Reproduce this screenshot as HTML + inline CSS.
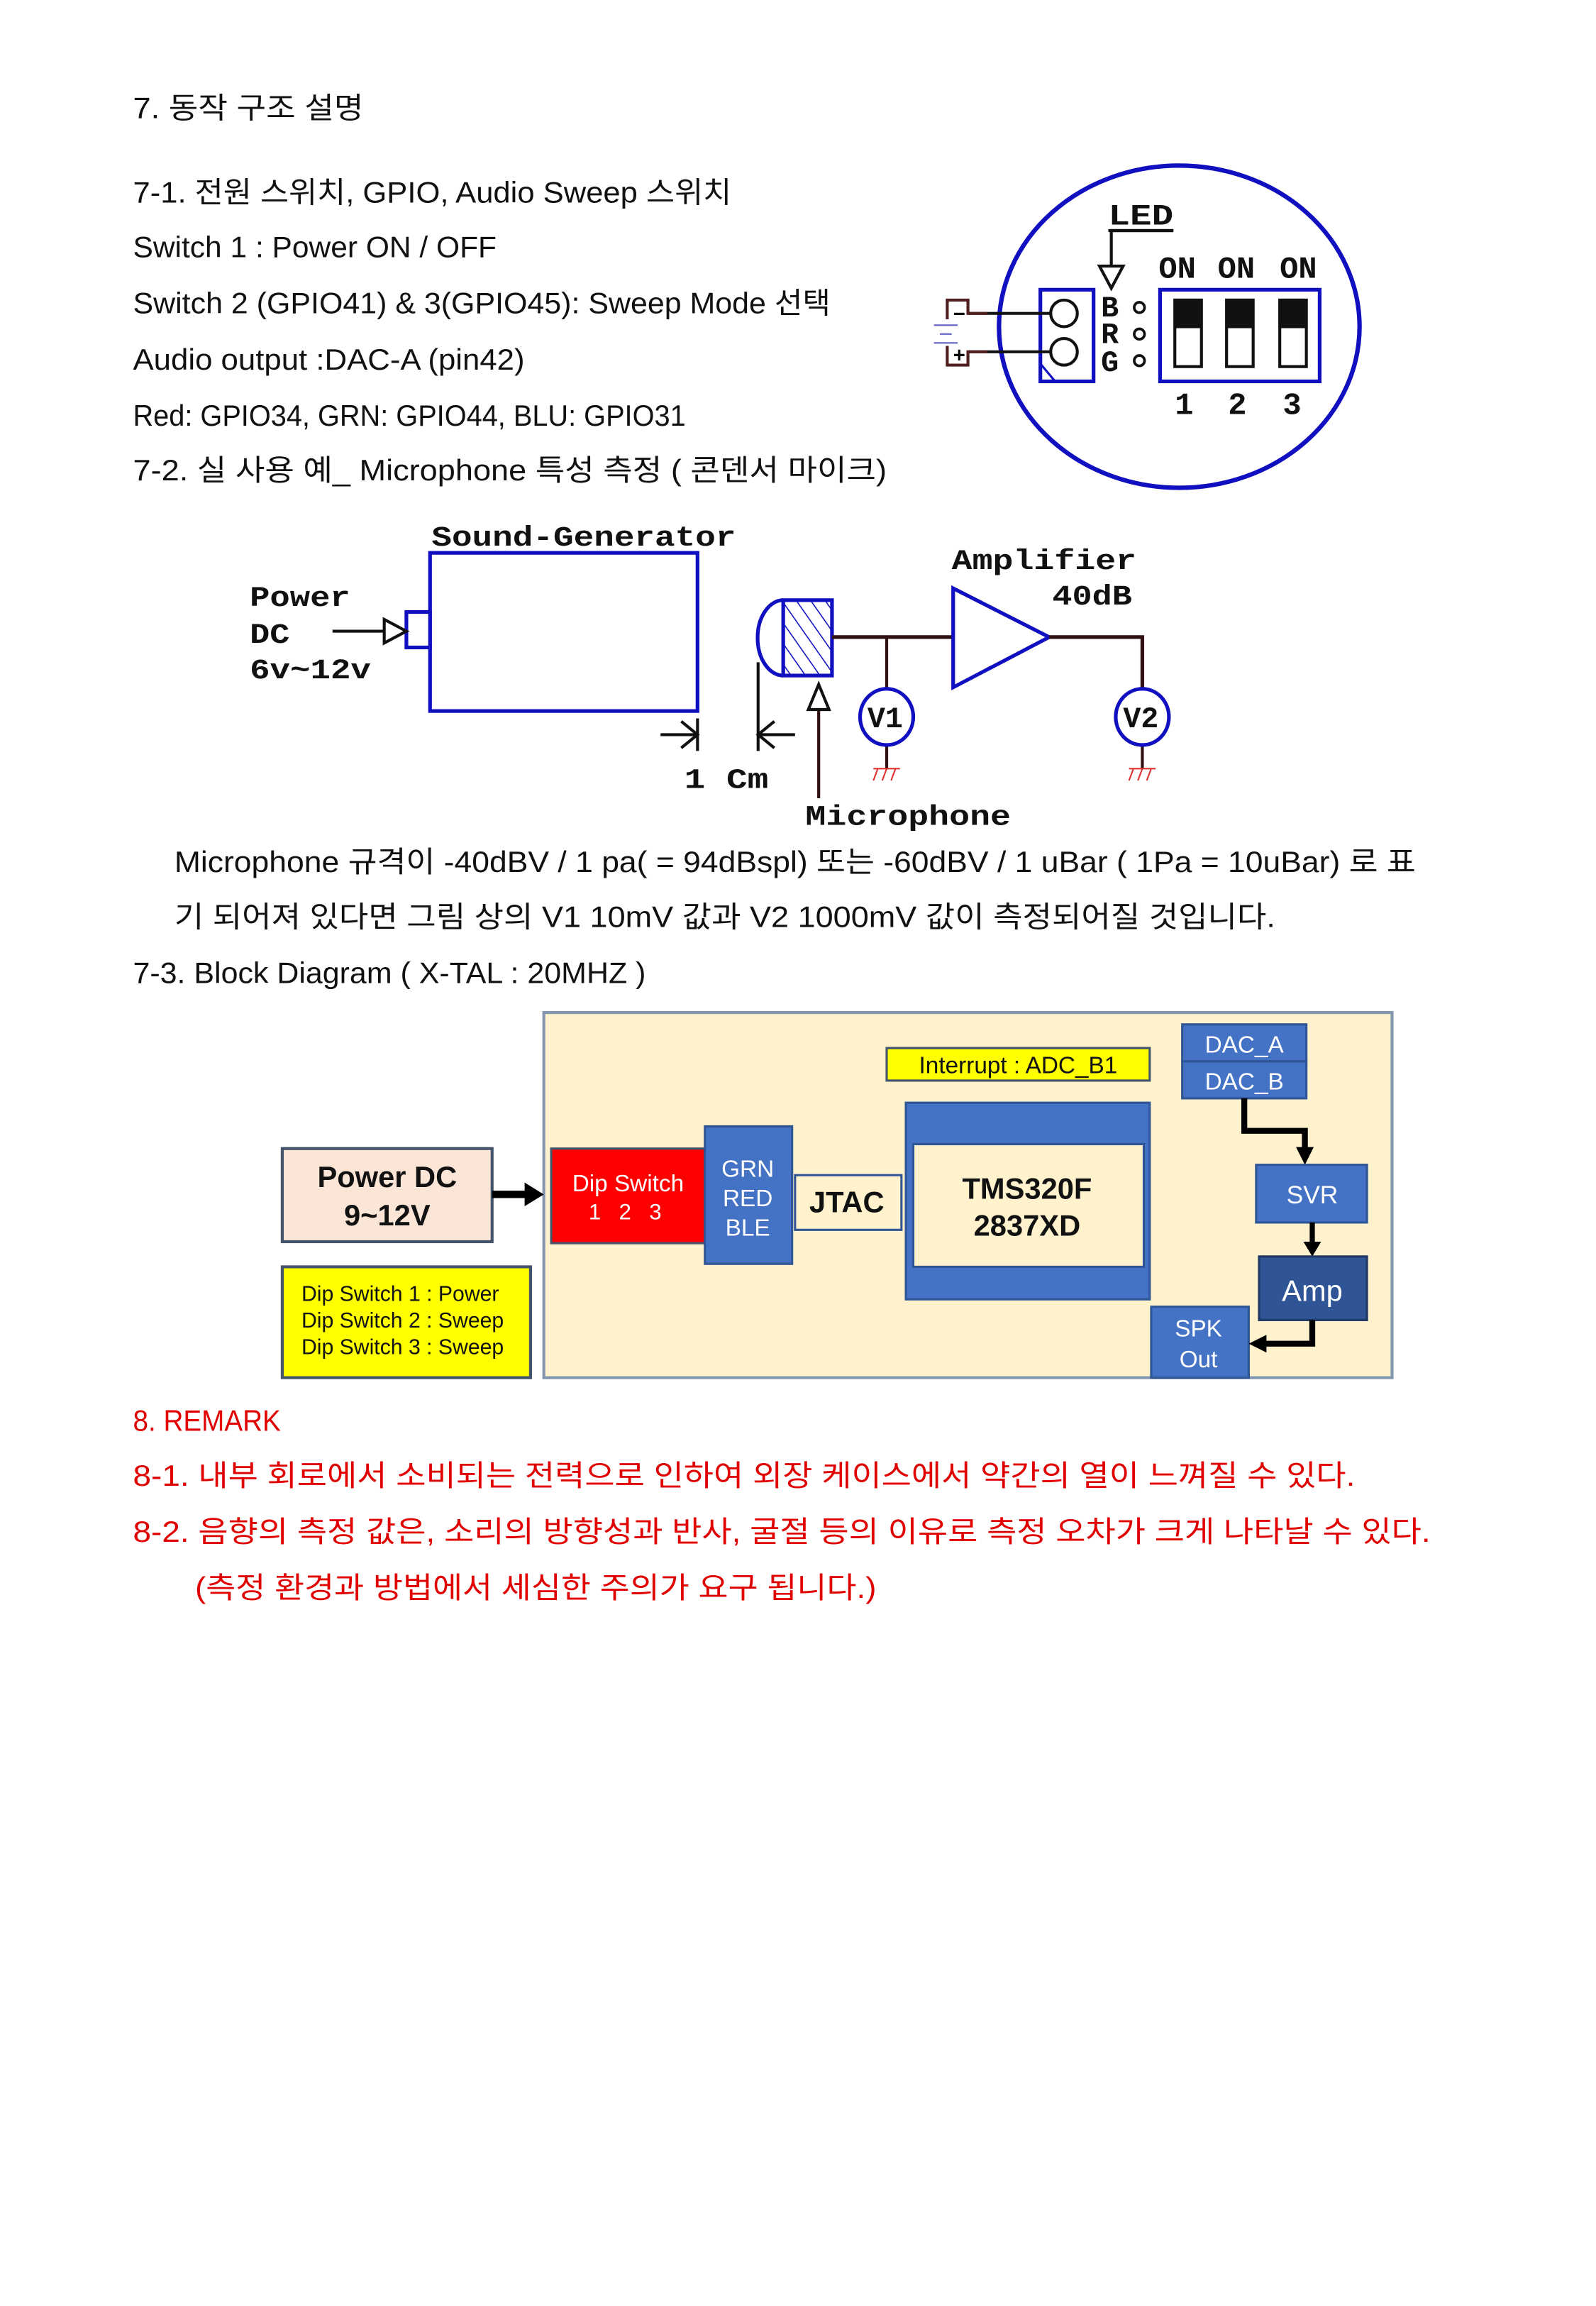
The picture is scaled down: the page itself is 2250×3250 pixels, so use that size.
<!DOCTYPE html>
<html><head><meta charset="utf-8"><style>
html,body{margin:0;padding:0;background:#fff;}
svg{display:block;}
.k{font-family:"Liberation Sans","Noto Sans CJK KR","NanumGothic",sans-serif;font-size:20px;fill:#111;}
.r{fill:#e00000;}
.c{font-family:"Liberation Mono","DejaVu Sans Mono",monospace;font-weight:bold;font-size:19px;fill:#111;}
.b{font-family:"Liberation Sans","Noto Sans CJK KR",sans-serif;}
</style></head><body>
<svg width="2250" height="3250" viewBox="0 0 1080 1560" xmlns="http://www.w3.org/2000/svg">
<defs>
<pattern id="h" width="8" height="8" patternUnits="userSpaceOnUse" patternTransform="rotate(-35)">
<line x1="0" y1="0" x2="0" y2="8" stroke="#1010c0" stroke-width="1.5"/></pattern>
</defs>
<rect width="1080" height="1560" fill="#fff"/>
<g class="k">
<text x="90" y="80" textLength="156" lengthAdjust="spacingAndGlyphs">7. 동작 구조 설명</text>
<text x="90" y="137" textLength="405" lengthAdjust="spacingAndGlyphs">7-1. 전원 스위치, GPIO, Audio Sweep 스위치</text>
<text x="90" y="174" textLength="246" lengthAdjust="spacingAndGlyphs">Switch 1 : Power ON / OFF</text>
<text x="90" y="212" textLength="472" lengthAdjust="spacingAndGlyphs">Switch 2 (GPIO41) &amp; 3(GPIO45):  Sweep Mode 선택</text>
<text x="90" y="250" textLength="265" lengthAdjust="spacingAndGlyphs">Audio output :DAC-A (pin42)</text>
<text x="90" y="288" textLength="374" lengthAdjust="spacingAndGlyphs">Red: GPIO34, GRN: GPIO44, BLU: GPIO31</text>
<text x="90" y="325" textLength="510" lengthAdjust="spacingAndGlyphs">7-2. 실 사용 예_ Microphone 특성 측정 ( 콘덴서 마이크)</text>
<text x="118" y="590" textLength="840" lengthAdjust="spacingAndGlyphs">Microphone 규격이 -40dBV / 1 pa( = 94dBspl)  또는 -60dBV / 1 uBar ( 1Pa = 10uBar) 로 표</text>
<text x="118" y="627" textLength="745" lengthAdjust="spacingAndGlyphs">기 되어져 있다면 그림 상의 V1 10mV 값과 V2 1000mV 값이 측정되어질 것입니다.</text>
<text x="90" y="665" textLength="347" lengthAdjust="spacingAndGlyphs">7-3. Block Diagram ( X-TAL : 20MHZ )</text>
<text class="k r" x="90" y="968" textLength="100" lengthAdjust="spacingAndGlyphs">8. REMARK</text>
<text class="k r" x="90" y="1005" textLength="827" lengthAdjust="spacingAndGlyphs">8-1. 내부 회로에서 소비되는 전력으로 인하여 외장 케이스에서 약간의 열이 느껴질 수 있다.</text>
<text class="k r" x="90" y="1043" textLength="878" lengthAdjust="spacingAndGlyphs">8-2. 음향의 측정 값은, 소리의 방향성과 반사, 굴절 등의 이유로 측정 오차가 크게 나타날 수 있다.</text>
<text class="k r" x="132" y="1081" textLength="461" lengthAdjust="spacingAndGlyphs">(측정 환경과 방법에서 세심한 주의가 요구 됩니다.)</text>
</g>

<!-- circle diagram -->
<ellipse cx="798" cy="221" rx="122" ry="109" fill="none" stroke="#1010c0" stroke-width="3"/>
<text class="c" x="750" y="152" style="font-size:20px" textLength="44" lengthAdjust="spacingAndGlyphs">LED</text>
<line x1="750" y1="156" x2="794" y2="156" stroke="#111" stroke-width="2"/>
<polyline points="794,156 752,156 752,195" fill="none" stroke="#111" stroke-width="2"/>
<polygon points="744,180 760,180 752,195" fill="#fff" stroke="#111" stroke-width="2"/>
<rect x="704" y="196" width="36" height="62" fill="none" stroke="#1010c0" stroke-width="2.5"/>
<line x1="704" y1="246" x2="714" y2="258" stroke="#1010c0" stroke-width="1.5"/>
<circle cx="720" cy="212" r="9" fill="#fff" stroke="#111" stroke-width="2"/>
<circle cx="720" cy="238" r="9" fill="#fff" stroke="#111" stroke-width="2"/>
<line x1="655" y1="212" x2="711" y2="212" stroke="#111" stroke-width="2"/>
<line x1="655" y1="238" x2="711" y2="238" stroke="#111" stroke-width="2"/>
<polyline points="641,216 641,203 655,203 655,212 668,212" fill="none" stroke="#502020" stroke-width="2"/>
<polyline points="641,234 641,247 655,247 655,238 668,238" fill="none" stroke="#502020" stroke-width="2"/>
<text x="645" y="217" font-size="14" font-weight="bold" font-family="Liberation Sans">−</text>
<text x="645" y="245" font-size="14" font-weight="bold" font-family="Liberation Sans">+</text>
<g stroke="#6060c0" stroke-width="1"><line x1="632" y1="220" x2="648" y2="220"/><line x1="636" y1="226" x2="644" y2="226"/><line x1="632" y1="232" x2="648" y2="232"/></g>
<g class="c" style="font-size:20px"><text x="745" y="214">B</text><text x="745" y="232">R</text><text x="745" y="251">G</text></g>
<g fill="none" stroke="#111" stroke-width="1.8"><circle cx="771" cy="208" r="3.5"/><circle cx="771" cy="226" r="3.5"/><circle cx="771" cy="244" r="3.5"/></g>
<rect x="785" y="196" width="108" height="62" fill="none" stroke="#1010c0" stroke-width="2.5"/>
<g stroke="#111" stroke-width="2" fill="#fff">
<rect x="795" y="203" width="18" height="45"/><rect x="830" y="203" width="18" height="45"/><rect x="866" y="203" width="18" height="45"/></g>
<g fill="#111"><rect x="795" y="203" width="18" height="19"/><rect x="830" y="203" width="18" height="19"/><rect x="866" y="203" width="18" height="19"/></g>
<g class="c" style="font-size:21px"><text x="784" y="188">ON</text><text x="824" y="188">ON</text><text x="866" y="188">ON</text>
<text x="795" y="280">1</text><text x="831" y="280">2</text><text x="868" y="280">3</text></g>

<!-- sound generator -->
<text class="c" x="292" y="369" textLength="206" lengthAdjust="spacingAndGlyphs">Sound-Generator</text>
<rect x="291" y="374" width="181" height="107" fill="none" stroke="#1010c0" stroke-width="2.5"/>
<rect x="275" y="414" width="16" height="24" fill="#fff" stroke="#1010c0" stroke-width="2.5"/>
<line x1="225" y1="427" x2="262" y2="427" stroke="#111" stroke-width="2"/>
<polygon points="260,419 275,427 260,435" fill="#fff" stroke="#111" stroke-width="2"/>
<text class="c" x="169" y="410" textLength="68" lengthAdjust="spacingAndGlyphs">Power</text><text class="c" x="169" y="435" textLength="27" lengthAdjust="spacingAndGlyphs">DC</text><text class="c" x="169" y="459" textLength="82" lengthAdjust="spacingAndGlyphs">6v~12v</text>
<path d="M530,406 A17,25 0 0 0 530,457" fill="none" stroke="#1010c0" stroke-width="2.5"/>
<rect x="530" y="406" width="33" height="51" fill="url(#h)" stroke="#1010c0" stroke-width="2.5"/>
<line x1="563" y1="431" x2="645" y2="431" stroke="#301010" stroke-width="2.5"/>
<polygon points="645,398 645,465 710,431" fill="#fff" stroke="#1010c0" stroke-width="2.5"/>
<polyline points="710,431 773,431 773,467" fill="none" stroke="#301010" stroke-width="2.5"/>
<line x1="600" y1="431" x2="600" y2="467" stroke="#301010" stroke-width="2"/>
<line x1="600" y1="503" x2="600" y2="520" stroke="#301010" stroke-width="2"/>
<line x1="773" y1="503" x2="773" y2="520" stroke="#301010" stroke-width="2"/>
<g stroke="#e03030" stroke-width="1"><line x1="591" y1="520" x2="609" y2="520"/><line x1="594" y1="520" x2="591" y2="528"/><line x1="600" y1="520" x2="597" y2="528"/><line x1="606" y1="520" x2="603" y2="528"/>
<line x1="764" y1="520" x2="782" y2="520"/><line x1="767" y1="520" x2="764" y2="528"/><line x1="773" y1="520" x2="770" y2="528"/><line x1="779" y1="520" x2="776" y2="528"/></g>
<ellipse cx="600" cy="485" rx="18" ry="19" fill="#fff" stroke="#1010c0" stroke-width="2.5"/>
<ellipse cx="773" cy="485" rx="18" ry="19" fill="#fff" stroke="#1010c0" stroke-width="2.5"/>
<text class="c" x="587" y="492" style="font-size:20px">V1</text><text class="c" x="760" y="492" style="font-size:20px">V2</text>
<text class="c" x="644" y="385" textLength="125" lengthAdjust="spacingAndGlyphs">Amplifier</text><text class="c" x="712" y="409" textLength="54" lengthAdjust="spacingAndGlyphs">40dB</text>
<line x1="472" y1="486" x2="472" y2="508" stroke="#111" stroke-width="2"/>
<line x1="513" y1="448" x2="513" y2="508" stroke="#111" stroke-width="2"/>
<path d="M447,497 L472,497 M461,488 L472,497 L461,506" fill="none" stroke="#111" stroke-width="2"/>
<path d="M538,497 L513,497 M524,488 L513,497 L524,506" fill="none" stroke="#111" stroke-width="2"/>
<text class="c" x="463" y="533" textLength="57" lengthAdjust="spacingAndGlyphs">1 Cm</text>
<line x1="554" y1="540" x2="554" y2="478" stroke="#301010" stroke-width="2"/>
<polygon points="547,480 561,480 554,463" fill="#fff" stroke="#111" stroke-width="2"/>
<text class="c" x="545" y="558" textLength="139" lengthAdjust="spacingAndGlyphs">Microphone</text>

<!-- block diagram -->
<g class="b">
<rect x="368" y="685" width="574" height="247" fill="#fff2cc" stroke="#8497b0" stroke-width="2"/>
<rect x="191" y="777" width="142" height="63" fill="#fbe5d6" stroke="#44546a" stroke-width="2"/>
<text x="262" y="803" text-anchor="middle" font-size="20" font-weight="bold" fill="#111">Power DC</text>
<text x="262" y="829" text-anchor="middle" font-size="20" font-weight="bold" fill="#111">9~12V</text>
<line x1="333" y1="808" x2="358" y2="808" stroke="#000" stroke-width="5"/>
<polygon points="355,800 368,808 355,816" fill="#000"/>
<rect x="191" y="857" width="168" height="75" fill="#ffff00" stroke="#44546a" stroke-width="2"/>
<g font-size="14.5" fill="#111"><text x="204" y="880">Dip Switch 1 : Power</text><text x="204" y="898">Dip Switch 2 : Sweep</text><text x="204" y="916">Dip Switch 3 : Sweep</text></g>
<rect x="373" y="777" width="104" height="64" fill="#ff0000" stroke="#44546a" stroke-width="1.5"/>
<text x="425" y="806" text-anchor="middle" font-size="16" fill="#fff">Dip Switch</text>
<text x="425" y="825" text-anchor="middle" font-size="15" fill="#fff" letter-spacing="4">1 2 3</text>
<rect x="477" y="762" width="59" height="93" fill="#4472c4" stroke="#2f5597" stroke-width="1.5"/>
<g font-size="16" fill="#fff" text-anchor="middle"><text x="506" y="796">GRN</text><text x="506" y="816">RED</text><text x="506" y="836">BLE</text></g>
<rect x="538" y="795" width="72" height="37" fill="#fff2cc" stroke="#2f5597" stroke-width="1.5"/>
<text x="573" y="820" text-anchor="middle" font-size="20" font-weight="bold" fill="#111">JTAC</text>
<rect x="613" y="746" width="165" height="133" fill="#4472c4" stroke="#2f5597" stroke-width="1.5"/>
<rect x="618" y="774" width="156" height="83" fill="#fff2cc" stroke="#2f5597" stroke-width="1.5"/>
<text x="695" y="811" text-anchor="middle" font-size="20" font-weight="bold" fill="#111">TMS320F</text>
<text x="695" y="836" text-anchor="middle" font-size="20" font-weight="bold" fill="#111">2837XD</text>
<rect x="600" y="709" width="178" height="22" fill="#ffff00" stroke="#44546a" stroke-width="1.5"/>
<text x="689" y="726" text-anchor="middle" font-size="16" fill="#111">Interrupt : ADC_B1</text>
<rect x="800" y="693" width="84" height="25" fill="#4472c4" stroke="#2f5597" stroke-width="1.5"/>
<rect x="800" y="718" width="84" height="25" fill="#4472c4" stroke="#2f5597" stroke-width="1.5"/>
<text x="842" y="712" text-anchor="middle" font-size="16" fill="#fff">DAC_A</text>
<text x="842" y="737" text-anchor="middle" font-size="16" fill="#fff">DAC_B</text>
<polyline points="842,743 842,765 883,765 883,778" fill="none" stroke="#000" stroke-width="4"/>
<polygon points="877,776 889,776 883,788" fill="#000"/>
<rect x="850" y="788" width="75" height="39" fill="#4472c4" stroke="#2f5597" stroke-width="1.5"/>
<text x="888" y="814" text-anchor="middle" font-size="17" fill="#fff">SVR</text>
<line x1="888" y1="827" x2="888" y2="842" stroke="#000" stroke-width="3.5"/>
<polygon points="882,840 894,840 888,850" fill="#000"/>
<rect x="852" y="850" width="73" height="43" fill="#2f5597" stroke="#203864" stroke-width="1.5"/>
<text x="888" y="880" text-anchor="middle" font-size="20" fill="#fff">Amp</text>
<rect x="779" y="884" width="66" height="48" fill="#4472c4" stroke="#2f5597" stroke-width="1.5"/>
<text x="811" y="904" text-anchor="middle" font-size="16" fill="#fff">SPK</text>
<text x="811" y="925" text-anchor="middle" font-size="16" fill="#fff">Out</text>
<polyline points="888,893 888,909 855,909" fill="none" stroke="#000" stroke-width="4"/>
<polygon points="857,903 857,915 845,909" fill="#000"/>
</g>
</svg>
</body></html>
